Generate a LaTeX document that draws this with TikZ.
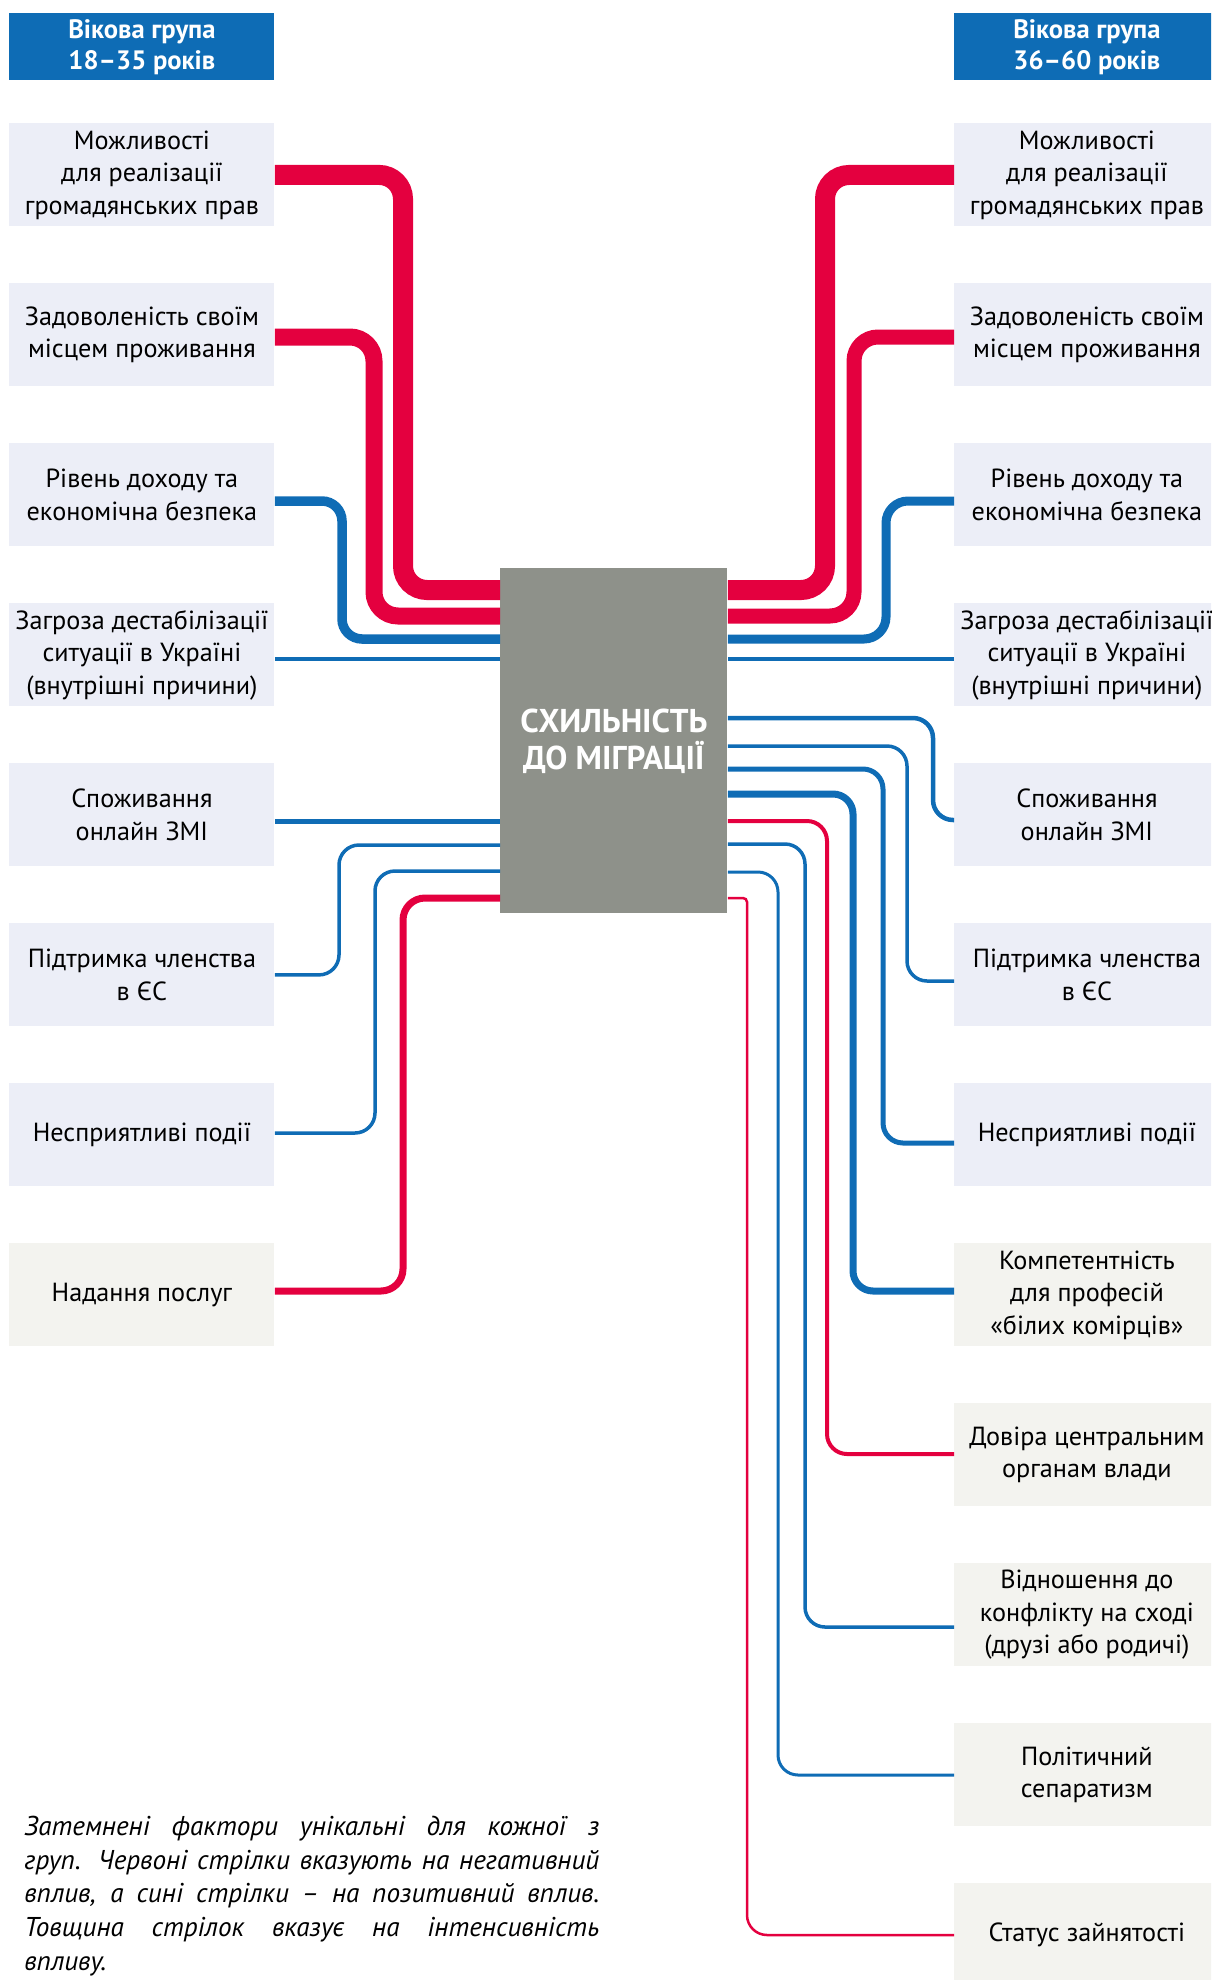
\documentclass[tikz,border=0pt]{standalone}
\usepackage{fontspec}
\setmainfont{PT Sans}

\definecolor{hdrblue}{HTML}{0E6CB5}
\definecolor{posblue}{HTML}{0F6CB5}
\definecolor{negred}{HTML}{E4003F}
\definecolor{boxgrey}{HTML}{ECEEF7}
\definecolor{boxbeige}{HTML}{F3F3EF}
\definecolor{coregrey}{HTML}{8E918A}

\tikzset{
  factor/.style={fill=boxgrey, minimum width=132.5pt, minimum height=51.5pt,
    inner sep=0pt, align=center, anchor=north west,
    font=\fontsize{13.1}{16.25}\selectfont},
  unique/.style={factor, fill=boxbeige},
  group/.style={factor, fill=hdrblue, minimum height=33.5pt, text=white,
    font=\bfseries\fontsize{13.3}{15.5}\selectfont},
  core/.style={fill=coregrey, minimum width=113.5pt, minimum height=172.5pt,
    inner sep=0pt, align=center, anchor=north west, text=white,
    font=\bfseries\fontsize{16.5}{18.5}\selectfont},
  note/.style={anchor=north west, inner sep=0pt, text width=287.5pt,
    align=justify, font=\itshape\fontsize{13.6}{16.8}\selectfont},
  neglink/.style={draw=negred, rounded corners=12pt},
  poslink/.style={draw=posblue, rounded corners=10pt},
}

\begin{document}
\begin{tikzpicture}[x=0.5pt, y=-0.5pt]
\useasboundingbox (0,0) rectangle (1211,1980);
\clip (0,0) rectangle (1211,1980);

% age groups
\node[group] (gl) at (9,13) {Вікова група\\18–35 років};
\node[group] (gr) at (954,13) {Вікова група\\36–60 років};

% factors 18-35
\node[factor] (l1) at (9,123) {Можливості\\для реалізації\\громадянських прав};
\node[factor] (l2) at (9,283) {Задоволеність своїм\\місцем проживання};
\node[factor] (l3) at (9,443) {Рівень доходу та\\економічна безпека};
\node[factor] (l4) at (9,603) {Загроза дестабілізації\\ситуації в Україні\\(внутрішні причини)};
\node[factor] (l5) at (9,763) {Споживання\\онлайн ЗМІ};
\node[factor] (l6) at (9,923) {Підтримка членства\\в ЄС};
\node[factor] (l7) at (9,1083) {Несприятливі події};
\node[unique] (l8) at (9,1243) {Надання послуг};

% factors 36-60
\node[factor] (r1) at (954,123) {Можливості\\для реалізації\\громадянських прав};
\node[factor] (r2) at (954,283) {Задоволеність своїм\\місцем проживання};
\node[factor] (r3) at (954,443) {Рівень доходу та\\економічна безпека};
\node[factor] (r4) at (954,603) {Загроза дестабілізації\\ситуації в Україні\\(внутрішні причини)};
\node[factor] (r5) at (954,763) {Споживання\\онлайн ЗМІ};
\node[factor] (r6) at (954,923) {Підтримка членства\\в ЄС};
\node[factor] (r7) at (954,1083) {Несприятливі події};
\node[unique] (r8) at (954,1243) {Компетентність\\для професій\\«білих комірців»};
\node[unique] (r9) at (954,1403) {Довіра центральним\\органам влади};
\node[unique] (r10) at (954,1563) {Відношення до\\конфлікту на сході\\(друзі або родичі)};
\node[unique] (r11) at (954,1723) {Політичний\\сепаратизм};
\node[unique] (r12) at (954,1883) {Статус зайнятості};

\node[core] (core) at (500,568) {СХИЛЬНІСТЬ\\ДО МІГРАЦІЇ};

% left links
\draw[neglink, line width=10pt] (l1.east) -| (403,590) -- (core.west |- 0,590);
\draw[neglink, line width=8.5pt] (l2.east |- 0,337) -| (374,616) -- (core.west |- 0,616);
\draw[poslink, line width=4.75pt] (l3.east |- 0,501) -| (342,639) -- (core.west |- 0,639);
\draw[poslink, line width=1.75pt] (l4.east |- 0,659) -- (core.west |- 0,659);
\draw[poslink, line width=2.5pt] (l5.east |- 0,821) -- (core.west |- 0,821);
\draw[poslink, line width=1.75pt] (l6.east) -| (339,845) -- (core.west |- 0,845);
\draw[poslink, line width=1.75pt] (l7.east |- 0,1133) -| (375,871) -- (core.west |- 0,871);
\draw[neglink, line width=3.5pt, rounded corners=11pt] (l8.east |- 0,1291) -| (403,898) -- (core.west |- 0,898);

% right links
\draw[neglink, line width=10pt] (core.east |- 0,590) -| (825,175) -- (r1.west);
\draw[neglink, line width=7.5pt] (core.east |- 0,616) -| (854,337) -- (r2.west |- 0,337);
\draw[poslink, line width=4.5pt, rounded corners=11pt] (core.east |- 0,639) -| (886,501) -- (r3.west |- 0,501);
\draw[poslink, line width=2pt] (core.east |- 0,659) -- (r4.west |- 0,659);
\draw[poslink, line width=2.25pt] (core.east |- 0,718) -| (933,820) -- (r5.west |- 0,820);
\draw[poslink, line width=1.75pt] (core.east |- 0,746) -| (907,981) -- (r6.west |- 0,981);
\draw[poslink, line width=2.5pt] (core.east |- 0,769) -| (883,1143) -- (r7.west |- 0,1143);
\draw[poslink, line width=3.5pt] (core.east |- 0,794) -| (853,1291) -- (r8.west |- 0,1291);
\draw[neglink, line width=2pt, rounded corners=10pt] (core.east |- 0,821) -| (827,1454) -- (r9.west |- 0,1454);
\draw[poslink, line width=1.75pt] (core.east |- 0,844) -| (805,1627) -- (r10.west |- 0,1627);
\draw[poslink, line width=1.5pt] (core.east |- 0,872) -| (778,1775) -- (r11.west |- 0,1775);
\draw[neglink, line width=1.25pt] (core.east |- 0,898) [rounded corners=2pt] -- (747,898) [rounded corners=10pt] -- (747,1935) -- (r12.west |- 0,1935);

\node[note] (note) at (24,1816) {Затемнені фактори унікальні для кожної з\linebreak груп. Червоні стрілки вказують на негативний\linebreak вплив, а сині стрілки – на позитивний вплив.\linebreak Товщина стрілок вказує на інтенсивність\linebreak впливу.};
\end{tikzpicture}
\end{document}
